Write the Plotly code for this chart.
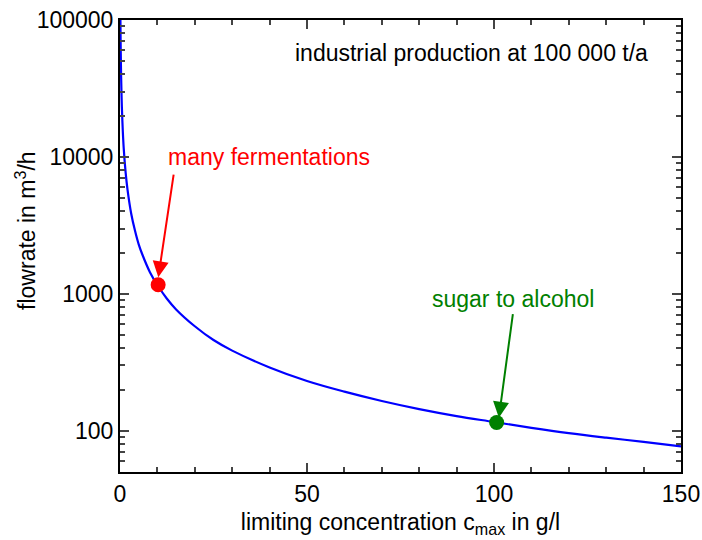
import plotly.graph_objects as go

# curve: limiting concentration (g/l) vs flowrate (m3/h)
conc = [0.115, 0.15, 0.2, 0.3, 0.4, 0.5, 0.75, 1, 1.5, 2, 3, 4, 5, 6, 8, 10, 12.5, 15,
        20, 25, 30, 40, 50, 60, 70, 80, 90, 100, 110, 120, 130, 140, 150]
flow = [100000, 77000, 58000, 38500, 29000, 23100, 15400, 11500, 7700, 5800, 3850, 2900,
        2300, 1930, 1440, 1160, 925, 770, 580, 460, 385, 290, 231, 193, 165, 144, 128,
        116, 105, 96, 89, 83, 77]

pt_names = ["many fermentations", "sugar to alcohol"]
pt_x = [10.2, 100.7]
pt_y = [1165, 115]
pt_colors = ["#ff0000", "#008000"]

y_ticks = [100, 1000, 10000, 100000]
y_ticktext = ["100", "1000", "10000", "100000"]
x_ticks = [0, 50, 100, 150]

FONT = "Liberation Sans, Arial, sans-serif"
FS = 23

fig = go.Figure()
fig.add_trace(go.Scatter(x=conc, y=flow, mode="lines", line=dict(color="#0000ff", width=2.2, shape="spline"),
                         showlegend=False, hoverinfo="skip"))
for i in range(len(pt_x)):
    fig.add_trace(go.Scatter(x=[pt_x[i]], y=[pt_y[i]], mode="markers",
                             marker=dict(color=pt_colors[i], size=15), showlegend=False))

# annotations (text)
fig.add_annotation(x=12.3, y=4.0, text=pt_names[0], showarrow=False, xanchor="left", yanchor="middle",
                   font=dict(color="#ff0000", size=FS, family=FONT))
fig.add_annotation(x=82.9, y=2.966, text=pt_names[1], showarrow=False, xanchor="left", yanchor="middle",
                   font=dict(color="#008000", size=FS, family=FONT))
fig.add_annotation(x=141.7, y=4.761, text="industrial production at 100 000 t/a", showarrow=False,
                   xanchor="right", yanchor="middle", font=dict(color="black", size=FS, family=FONT))
# y-axis title as rotated annotation
fig.add_annotation(xref="paper", yref="paper", x=-0.168, y=0.535, text="flowrate in m<sup>3</sup>/h",
                   textangle=-90, showarrow=False, xanchor="center", yanchor="middle",
                   font=dict(color="black", size=FS, family=FONT))
# arrows
fig.add_annotation(x=10.24, y=3.121, ax=14.4, ay=3.882, axref="x", ayref="y", xref="x", yref="y",
                   text="", showarrow=True, arrowhead=2, arrowsize=1.6, arrowwidth=2, arrowcolor="#ff0000")
fig.add_annotation(x=101.3, y=2.095, ax=105.1, ay=2.863, axref="x", ayref="y", xref="x", yref="y",
                   text="", showarrow=True, arrowhead=2, arrowsize=1.6, arrowwidth=2, arrowcolor="#008000")

fig.update_layout(
    width=702, height=540,
    margin=dict(l=120, r=21, t=20, b=68),
    plot_bgcolor="white", paper_bgcolor="white",
    font=dict(family=FONT, size=FS, color="black"),
    xaxis=dict(range=[0, 150], tickvals=x_ticks, ticks="inside", ticklen=9, tickwidth=2,
               showline=True, linewidth=2, linecolor="black", mirror="allticks", showgrid=False,
               zeroline=False, tickfont=dict(size=FS), automargin=False, ticklabeloverflow="allow",
               minor=dict(dtick=10, ticks="inside", ticklen=5, tickwidth=2, showgrid=False),
               title=dict(text="limiting concentration c<sub>max</sub> in g/l", font=dict(size=FS), standoff=8)),
    yaxis=dict(type="log", range=[1.699, 5], tickvals=y_ticks, ticktext=y_ticktext, ticks="inside",
               ticklen=9, tickwidth=2, showline=True, linewidth=2, linecolor="black", mirror="allticks",
               showgrid=False, zeroline=False, tickfont=dict(size=FS), automargin=False,
               ticklabeloverflow="allow",
               minor=dict(dtick="D1", ticks="inside", ticklen=5, tickwidth=2, showgrid=False)),
)

fig.write_html("out.html", config={"displayModeBar": False},
               post_script="document.body.style.margin='0';")
